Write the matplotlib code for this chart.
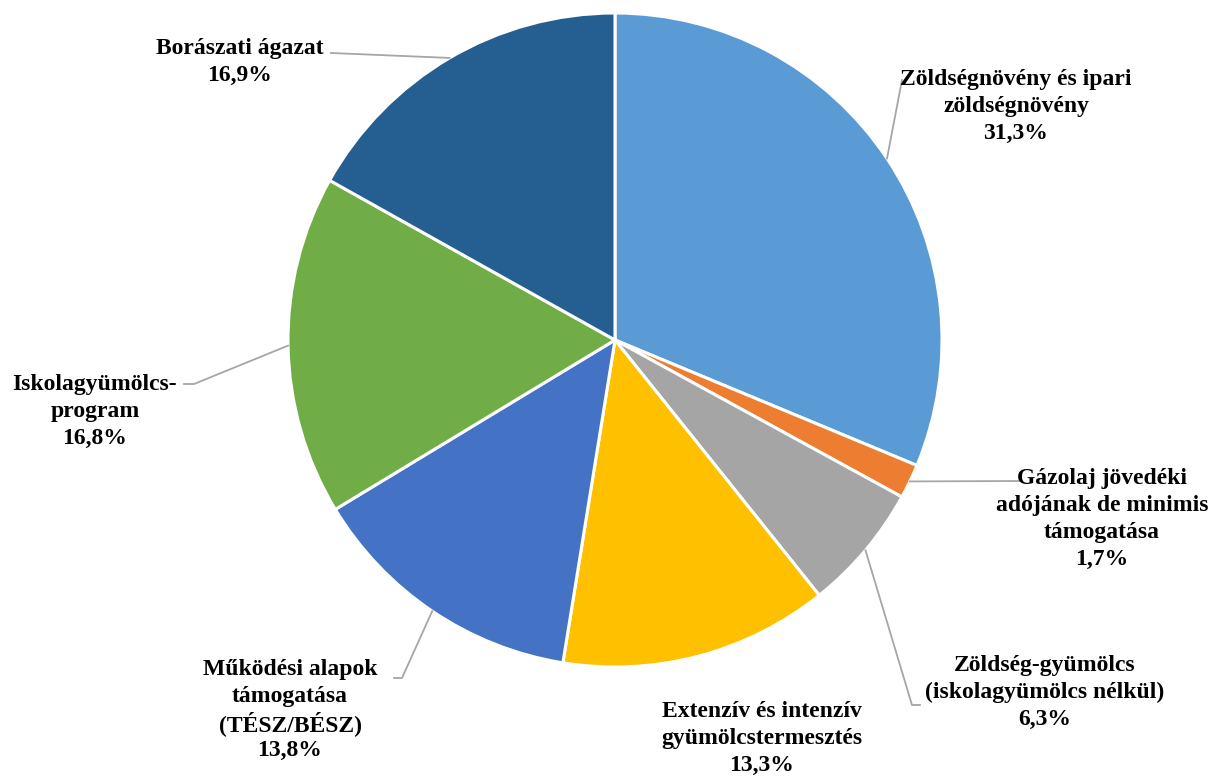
import numpy as np
import matplotlib.pyplot as plt

# chart data
labels = ["Zöldségnövény és ipari\nzöldségnövény",
          "Gázolaj jövedéki\nadójának de minimis\ntámogatása",
          "Zöldség-gyümölcs\n(iskolagyümölcs nélkül)",
          "Extenzív és intenzív\ngyümölcstermesztés",
          "Működési alapok\ntámogatása\n(TÉSZ/BÉSZ)",
          "Iskolagyümölcs-\nprogram",
          "Borászati ágazat"]
values = [31.3, 1.7, 6.3, 13.3, 13.8, 16.8, 16.9]
value_labels = ["31,3%", "1,7%", "6,3%", "13,3%", "13,8%", "16,8%", "16,9%"]
colors = ["#5B9BD5", "#ED7D31", "#A5A5A5", "#FFC000", "#4472C4", "#70AD47", "#255E91"]

W, H = 1224, 778
cx, cy, R = 615, 340, 327
line_h = 27  # px between label lines

plt.rcParams['font.family'] = ['Liberation Serif', 'DejaVu Serif']
fig = plt.figure(figsize=(W / 100, H / 100), dpi=100)
ax = fig.add_axes([0, 0, 1, 1])

wedges, _ = ax.pie(values, colors=colors, startangle=90, counterclock=False,
                   radius=1, wedgeprops=dict(edgecolor='white', linewidth=2.2))

# fix the view after pie() so the pie lands where it sits in the reference
ax.set_aspect('auto')
ax.set_xlim(-cx / R, (W - cx) / R)
ax.set_ylim((cy - H) / R, cy / R)
ax.axis('off')


def px(x, y):
    return (x - cx) / R, (cy - y) / R


# label centre x and first line y (px); leader path points (px)
label_pos = [(1016, 77), (1102, 476), (1045, 663), (762, 709),
             (290, 667), (95, 382), (240, 46)]
leaders = [[(902, 80)],
           [(1022, 481)],
           [(912, 705), (920, 705)],
           None,
           [(402, 678), (394, 678)],
           [(194, 384), (184, 384)],
           [(331, 53)]]

for w, lab, val, pos, ld in zip(wedges, labels, value_labels, label_pos, leaders):
    if ld is not None:
        mid = np.deg2rad((w.theta1 + w.theta2) / 2)
        ex, ey = np.cos(mid), np.sin(mid)
        pts = [(ex, ey)] + [px(*p) for p in ld]
        xs, ys = zip(*pts)
        ax.plot(xs, ys, color='#A6A6A6', lw=1.3, zorder=1)
    lines = lab.split("\n") + [val]
    for i, s in enumerate(lines):
        tx, ty = px(pos[0], pos[1] + i * line_h)
        ax.text(tx, ty, s, ha='center', va='center_baseline', fontsize=17,
                fontweight='bold', color='black')

fig.savefig("out.png", dpi=100)
